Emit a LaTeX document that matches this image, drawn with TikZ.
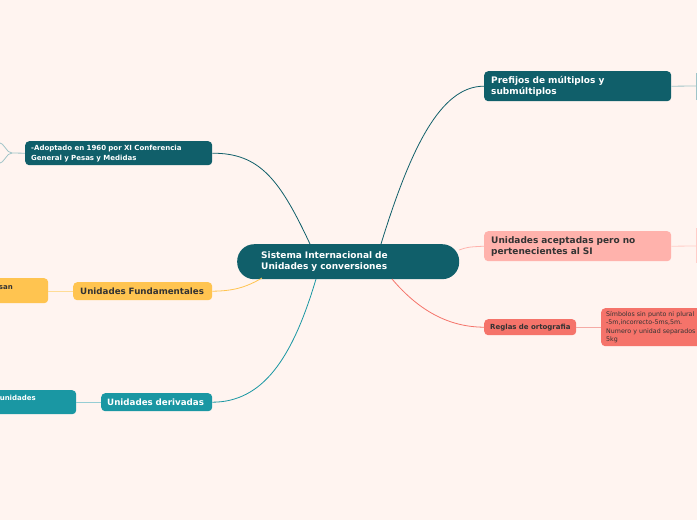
\documentclass[tikz,border=0pt]{standalone}
\usepackage{fontspec}
\setmainfont{DejaVu Sans}
\definecolor{bg}{RGB}{255,244,240}
\definecolor{dteal}{RGB}{16,95,106}
\definecolor{mteal}{RGB}{26,151,163}
\definecolor{yel}{RGB}{255,196,80}
\definecolor{pnk}{RGB}{255,178,172}
\definecolor{sal}{RGB}{245,115,106}
\definecolor{txt}{RGB}{51,51,51}
\definecolor{lteal}{RGB}{160,196,200}
\definecolor{lmteal}{RGB}{150,205,212}
\definecolor{lyel}{RGB}{255,220,150}
\definecolor{lpnk}{RGB}{255,205,200}
\definecolor{lsal}{RGB}{245,170,165}
\begin{document}
\begin{tikzpicture}[x=1pt,y=-1pt,
  box/.style={rounded corners=4pt, anchor=north west, align=left, inner ysep=1pt},
  bigf/.style={font=\fontsize{9}{11}\selectfont\bfseries},
  midf/.style={font=\fontsize{8.7}{11}\selectfont\bfseries},
  smallf/.style={font=\fontsize{7}{10}\selectfont\bfseries},
  normf/.style={font=\fontsize{6.3}{8.4}\selectfont},
  con/.style={line width=0.8pt}]
\useasboundingbox (0,0) rectangle (697,520);
\fill[bg] (0,0) rectangle (697,520);
\clip (0,0) rectangle (697,520);
% nodes
\node[box, bigf, rounded corners=17pt, fill=dteal, text=white, minimum width=222pt, minimum height=35pt, inner xsep=24pt, text width=174pt] (c) at (237,244) {Sistema Internacional de\\Unidades y conversiones};
\node[box, bigf, fill=dteal, text=white, minimum width=187pt, minimum height=30pt, inner xsep=7pt, text width=173pt] (pref) at (484,71) {Prefijos de múltiplos y\\submúltiplos};
\node[box, bigf, fill=pnk, text=txt, minimum width=187pt, minimum height=30pt, inner xsep=7pt, text width=173pt] (acep) at (484,231) {Unidades aceptadas pero no\\pertenecientes al SI};
\node[box, smallf, fill=sal, text=txt, minimum width=92pt, minimum height=16pt, inner xsep=6pt, text width=80pt] (regl) at (484,319) {\mbox{Reglas de ortografia}};
\node[box, normf, fill=sal, text=txt, minimum width=115pt, minimum height=38pt, inner xsep=5pt, text width=105pt] (simb) at (601,308) {Símbolos sin punto ni plural\\-5m,incorrecto-5ms,5m.\\Numero y unidad separados\\5kg};
\node[box, smallf, fill=dteal, text=white, minimum width=187pt, minimum height=24pt, inner xsep=6pt, text width=175pt] (adop) at (25,141) {-Adoptado en 1960 por XI Conferencia\\General y Pesas y Medidas};
\node[box, midf, fill=yel, text=txt, minimum width=139pt, minimum height=18pt, inner xsep=7pt, text width=125pt] (fund) at (73,282) {\mbox{Unidades Fundamentales}};
\node[box, midf, fill=mteal, text=white, minimum width=111pt, minimum height=18pt, inner xsep=6pt, text width=99pt] (deri) at (101,393) {\mbox{Unidades derivadas}};
\node[box, fill=yel, minimum width=108pt, minimum height=25pt] (ystub) at (-60,278) {};
\node[smallf, text=txt, anchor=base east, inner sep=0pt] (ytxt) at (13,289) {san};
\node[box, fill=mteal, minimum width=136pt, minimum height=24pt] (tstub) at (-60,390) {};
\node[smallf, text=white, anchor=base east, inner sep=0pt] (ttxt) at (36,400) {unidades};
% coordinates
\coordinate (cPref) at (381,244);
\coordinate (cAdop) at (310,244);
\coordinate (cFund) at (262,278);
\coordinate (cDeri) at (316,279);
\coordinate (cAcep) at (459,250);
\coordinate (cRegl) at (392,279);
\coordinate (fork) at (12,153);
\coordinate (fu) at (-2,142);
\coordinate (fd) at (-2,164);
\coordinate (rp) at (696,86);
\coordinate (rpt) at (696,73);
\coordinate (rpb) at (696,100);
\coordinate (ra) at (696,246);
\coordinate (rat) at (696,228);
\coordinate (rab) at (696,263);
% connectors
\draw[con, dteal] (cPref) .. controls (410,150) and (440,86) .. (pref.west);
\draw[con, dteal] (cAdop) .. controls (280,180) and (260,153) .. (adop.east);
\draw[con, mteal] (cDeri) .. controls (292,360) and (262,402) .. (deri.east);
\draw[con, sal] (cRegl) .. controls (420,312) and (450,327) .. (regl.west);
\draw[con, yel] (cFund) .. controls (245,288) and (232,291) .. (fund.east);
\draw[con, pnk] (cAcep) .. controls (468,247) .. (acep.west);
\draw[con, lsal] (regl.east) -- (simb.west |- regl.east);
\draw[con, lyel] (fund.west) -- (ystub.east |- fund.west);
\draw[con, lmteal] (deri.west) -- (tstub.east |- deri.west);
\draw[con, lteal] (adop.west) -- (fork);
\draw[con, lteal] (fork) .. controls (6,153) and (5,143) .. (fu);
\draw[con, lteal] (fork) .. controls (6,153) and (5,163) .. (fd);
\draw[con, lteal] (pref.east) -- (rp);
\draw[con, lteal] (rpt) -- (rpb);
\draw[con, lpnk] (acep.east) -- (ra);
\draw[con, lpnk] (rat) -- (rab);
\end{tikzpicture}
\end{document}
